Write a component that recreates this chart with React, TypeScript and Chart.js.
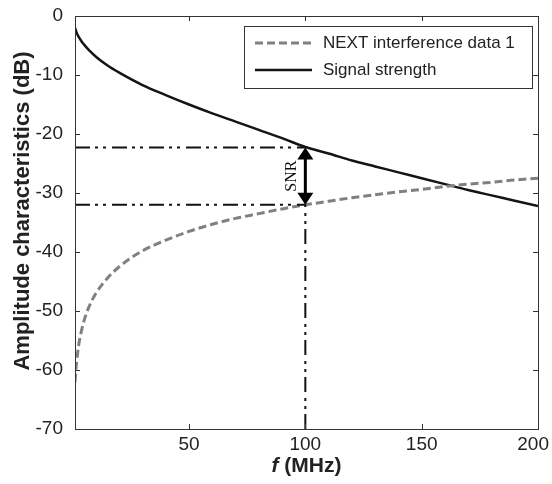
import React, { useEffect, useRef } from "react";
import { Chart, registerables } from "chart.js";

Chart.register(...registerables);

const freqs = [1, 1.5, 2, 3, 4, 5, 7, 10, 15, 20, 30, 40, 50, 60, 70, 80, 90, 100, 110, 120, 130, 140, 150, 160, 170, 180, 190, 200];
const nextDb = [-62, -59.4, -57.5, -54.8, -53, -51.5, -49.3, -47, -44.4, -42.5, -39.8, -38, -36.5, -35.3, -34.3, -33.5, -32.7, -32, -31.4, -30.8, -30.3, -29.8, -29.4, -28.9, -28.5, -28.2, -27.8, -27.5];
const signalDb = [-2.0, -2.6, -3.1, -3.8, -4.4, -4.9, -5.8, -6.9, -8.4, -9.6, -11.7, -13.4, -15.0, -16.5, -17.9, -19.3, -20.7, -22.2, -23.3, -24.5, -25.5, -26.5, -27.5, -28.5, -29.5, -30.4, -31.3, -32.2];

const seriesLabels = ["NEXT interference data 1", "Signal strength"];
const xTicks = [50, 100, 150, 200];
const yTicks = [0, -10, -20, -30, -40, -50, -60, -70];
const xMin = 1;
const xMax = 200;
const yMin = -70;
const yMax = 0;

const snrFreq = 100;
const snrSignalDb = -22.3;
const snrNoiseDb = -32;
const snrLabel = "SNR";
const xTitleItalic = "f";
const xTitleRest = " (MHz)";
const yTitle = "Amplitude characteristics (dB)";

const SANS = "'Liberation Sans', Arial, Helvetica, sans-serif";
const DASHDOT = [15, 5, 3, 5, 3, 6];
const NEXT_COLOR = "#808080";
const SIG_COLOR = "#141414";

const overlayPlugin = {
  id: "overlay",
  afterDatasetsDraw(chart: any) {
    const ctx = chart.ctx;
    const { left, right, top, bottom } = chart.chartArea;
    const xs = chart.scales.x;
    const ys = chart.scales.y;
    ctx.save();
    ctx.strokeStyle = "#333";
    ctx.lineWidth = 1;
    ctx.setLineDash([]);
    ctx.strokeRect(Math.round(left) + 0.5, Math.round(top) + 0.5, Math.round(right - left), Math.round(bottom - top));
    const tl = 5;
    ctx.beginPath();
    xTicks.forEach((v) => {
      const px = Math.round(xs.getPixelForValue(v)) + 0.5;
      ctx.moveTo(px, bottom);
      ctx.lineTo(px, bottom - tl);
      ctx.moveTo(px, top);
      ctx.lineTo(px, top + tl);
    });
    yTicks.forEach((v) => {
      const py = Math.round(ys.getPixelForValue(v)) + 0.5;
      ctx.moveTo(left, py);
      ctx.lineTo(left + tl, py);
      ctx.moveTo(right, py);
      ctx.lineTo(right - tl, py);
    });
    ctx.stroke();

    // x tick labels (kept inside the canvas)
    ctx.font = `19px ${SANS}`;
    ctx.fillStyle = "#222";
    ctx.textAlign = "center";
    ctx.textBaseline = "middle";
    xTicks.forEach((v) => {
      const label = String(v);
      const w = ctx.measureText(label).width;
      let cx = xs.getPixelForValue(v);
      cx = Math.min(cx, chart.width - 3 - w / 2);
      ctx.fillText(label, cx, bottom + 16);
    });

    const ax = xs.getPixelForValue(snrFreq);
    const ay1 = ys.getPixelForValue(snrSignalDb);
    const ay2 = ys.getPixelForValue(snrNoiseDb);
    const hh = 12;
    const hw = 8;
    ctx.strokeStyle = "#000";
    ctx.fillStyle = "#000";
    ctx.lineWidth = 3;
    ctx.beginPath();
    ctx.moveTo(ax, ay1 + hh - 1);
    ctx.lineTo(ax, ay2 - hh + 1);
    ctx.stroke();
    ctx.beginPath();
    ctx.moveTo(ax, ay1);
    ctx.lineTo(ax - hw, ay1 + hh);
    ctx.lineTo(ax + hw, ay1 + hh);
    ctx.closePath();
    ctx.fill();
    ctx.beginPath();
    ctx.moveTo(ax, ay2);
    ctx.lineTo(ax - hw, ay2 - hh);
    ctx.lineTo(ax + hw, ay2 - hh);
    ctx.closePath();
    ctx.fill();

    ctx.save();
    ctx.translate(ax - 14, (ay1 + ay2) / 2);
    ctx.rotate(-Math.PI / 2);
    ctx.font = "16px 'Liberation Serif', 'Times New Roman', serif";
    ctx.textAlign = "center";
    ctx.textBaseline = "middle";
    ctx.fillStyle = "#111";
    ctx.fillText(snrLabel, 0, 0);
    ctx.restore();
    ctx.restore();
  },
  afterDraw(chart: any) {
    const ctx = chart.ctx;
    const { left, right } = chart.chartArea;
    ctx.save();
    const lx = 244, ly = 26, lw = 288, lh = 62;
    ctx.fillStyle = "#fff";
    ctx.fillRect(lx, ly, lw, lh);
    ctx.strokeStyle = "#333";
    ctx.lineWidth = 1;
    ctx.setLineDash([]);
    ctx.strokeRect(lx + 0.5, ly + 0.5, lw, lh);
    const rows = [
      { y: 43, color: NEXT_COLOR, dash: [8, 4], width: 3, label: seriesLabels[0] },
      { y: 70, color: SIG_COLOR, dash: [], width: 2.5, label: seriesLabels[1] },
    ];
    rows.forEach((r) => {
      ctx.strokeStyle = r.color;
      ctx.lineWidth = r.width;
      ctx.setLineDash(r.dash);
      ctx.beginPath();
      ctx.moveTo(255, r.y);
      ctx.lineTo(312, r.y);
      ctx.stroke();
      ctx.setLineDash([]);
      ctx.fillStyle = "#222";
      ctx.font = `17px ${SANS}`;
      ctx.textAlign = "left";
      ctx.textBaseline = "middle";
      ctx.fillText(r.label, 323, r.y);
    });

    ctx.save();
    ctx.translate(23, 211);
    ctx.rotate(-Math.PI / 2);
    ctx.font = `bold 22px ${SANS}`;
    ctx.fillStyle = "#222";
    ctx.textAlign = "center";
    ctx.textBaseline = "middle";
    ctx.fillText(yTitle, 0, 0);
    ctx.restore();

    ctx.font = `italic bold 21px ${SANS}`;
    const w1 = ctx.measureText(xTitleItalic).width;
    ctx.font = `bold 21px ${SANS}`;
    const w2 = ctx.measureText(xTitleRest).width;
    const cx = (left + right) / 2;
    const sx = cx - (w1 + w2) / 2;
    ctx.fillStyle = "#222";
    ctx.textAlign = "left";
    ctx.textBaseline = "middle";
    ctx.font = `italic bold 21px ${SANS}`;
    ctx.fillText(xTitleItalic, sx, 466);
    ctx.font = `bold 21px ${SANS}`;
    ctx.fillText(xTitleRest, sx + w1, 466);
    ctx.restore();
  },
};

export default function App() {
  const ref = useRef<HTMLCanvasElement | null>(null);
  useEffect(() => {
    if (!ref.current) return;
    const toPts = (ys: number[]) => freqs.map((f, i) => ({ x: f, y: ys[i] }));
    const chart = new Chart(ref.current, {
      type: "line",
      data: {
        datasets: [
          {
            label: "snr-top",
            data: [{ x: xMin, y: snrSignalDb }, { x: snrFreq, y: snrSignalDb }],
            borderColor: "#111",
            borderWidth: 2,
            borderDash: DASHDOT,
            pointRadius: 0,
            fill: false,
          },
          {
            label: "snr-bottom",
            data: [{ x: xMin, y: snrNoiseDb }, { x: snrFreq, y: snrNoiseDb }],
            borderColor: "#111",
            borderWidth: 2,
            borderDash: DASHDOT,
            pointRadius: 0,
            fill: false,
          },
          {
            label: "snr-vertical",
            data: [{ x: snrFreq, y: yMin }, { x: snrFreq, y: snrNoiseDb }],
            borderColor: "#111",
            borderWidth: 2,
            borderDash: DASHDOT,
            pointRadius: 0,
            fill: false,
          },
          {
            label: seriesLabels[0],
            data: toPts(nextDb),
            borderColor: NEXT_COLOR,
            borderWidth: 3,
            borderDash: [8, 4],
            pointRadius: 0,
            cubicInterpolationMode: "monotone",
            fill: false,
          },
          {
            label: seriesLabels[1],
            data: toPts(signalDb),
            borderColor: SIG_COLOR,
            borderWidth: 2.5,
            pointRadius: 0,
            cubicInterpolationMode: "monotone",
            fill: false,
          },
        ],
      },
      options: {
        animation: false,
        responsive: false,
        maintainAspectRatio: false,
        layout: { padding: { top: 16, right: 14, left: 0, bottom: 0 } },
        plugins: { legend: { display: false }, tooltip: { enabled: false } },
        scales: {
          x: {
            type: "linear",
            min: xMin,
            max: xMax,
            afterBuildTicks: (axis: any) => {
              axis.ticks = xTicks.map((v) => ({ value: v }));
            },
            afterFit: (s: any) => {
              s.height = 55;
              s.paddingLeft = 0;
              s.paddingRight = 0;
            },
            grid: { display: false, drawTicks: false },
            border: { display: false },
            ticks: { display: false },
          },
          y: {
            type: "linear",
            min: yMin,
            max: yMax,
            afterBuildTicks: (axis: any) => {
              axis.ticks = yTicks.map((v) => ({ value: v }));
            },
            afterFit: (s: any) => {
              s.width = 75;
              s.paddingTop = 0;
              s.paddingBottom = 0;
            },
            grid: { display: false, drawTicks: false },
            border: { display: false },
            ticks: {
              color: "#222",
              padding: 12,
              font: { family: SANS, size: 19 },
            },
          },
        },
      },
      plugins: [overlayPlugin],
    } as any);
    return () => chart.destroy();
  }, []);
  return (
    <div style={{ position: "absolute", left: 0, top: 0, width: 552, height: 484, background: "#fff" }}>
      <canvas ref={ref} width={552} height={484} style={{ display: "block" }} />
    </div>
  );
}
